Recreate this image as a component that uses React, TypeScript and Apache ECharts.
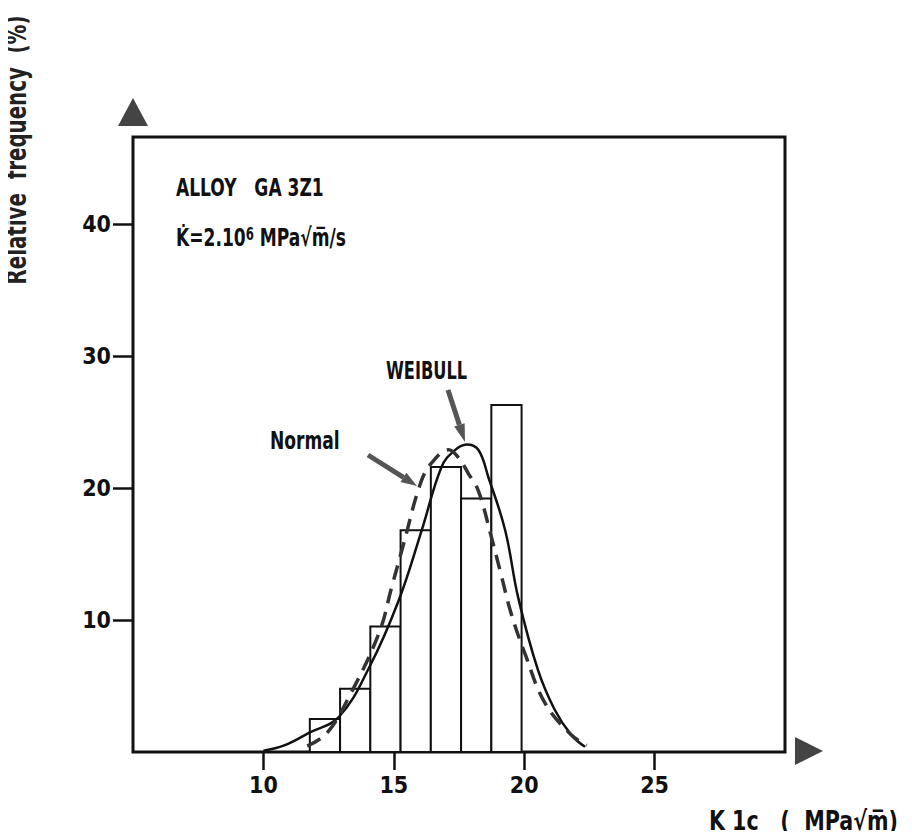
import React, { useEffect, useRef } from "react";
import * as echarts from "echarts";

// Histogram bins (K1c, MPa√m) and relative frequency (%)
const binEdges = [11.78, 12.94, 14.1, 15.26, 16.42, 17.58, 18.74, 19.9];
const binHeights = [2.5, 4.8, 9.5, 16.8, 21.6, 19.2, 26.3];

// Weibull fit (solid)
const weibullX = [10, 10.8, 11.76, 12.9, 14.08, 15.19, 16.07, 16.83, 17.3, 17.79, 18.24, 18.63, 19.27, 19.77, 20.53, 21.17, 21.8, 22.33];
const weibullY = [0.1, 0.5, 1.46, 2.67, 6.5, 11.5, 16.8, 21.6, 22.8, 23.3, 22.9, 20.8, 16.8, 11.7, 6.2, 3.2, 1.3, 0.4];

// Normal fit (dashed)
const normalX = [11.68, 12.44, 13.28, 14.43, 14.92, 15.38, 16.03, 16.45, 17.1, 17.48, 17.86, 18.24, 18.74, 19.12, 19.5, 20.04, 20.8, 21.8, 22.4];
const normalY = [0.45, 1.44, 4.17, 9.0, 12.5, 15.8, 20.4, 21.9, 22.9, 22.3, 21.1, 19.8, 16.3, 13.4, 10.5, 7.4, 3.7, 1.3, 0.5];

const xTicks = [10, 15, 20, 25];
const yTicks = [10, 20, 30, 40];

const FONT = "'Liberation Sans Narrow', 'DejaVu Sans Condensed', 'Roboto', sans-serif";

function arrow(x1: number, y1: number, x2: number, y2: number, headLen: number, headW: number) {
  const dx = x2 - x1;
  const dy = y2 - y1;
  const len = Math.sqrt(dx * dx + dy * dy);
  const ux = dx / len;
  const uy = dy / len;
  const bx = x2 - ux * headLen;
  const by = y2 - uy * headLen;
  const px = -uy;
  const py = ux;
  return [
    { type: "line", shape: { x1, y1, x2: bx, y2: by }, style: { stroke: "#555", lineWidth: 5 } },
    {
      type: "polygon",
      shape: { points: [[x2, y2], [bx + px * headW / 2, by + py * headW / 2], [bx - px * headW / 2, by - py * headW / 2]] },
      style: { fill: "#555" },
    },
  ];
}

export default function App() {
  const ref = useRef<HTMLDivElement>(null);
  useEffect(() => {
    if (!ref.current) return;
    const chart = echarts.init(ref.current, null, { renderer: "svg" });
    const bins = binHeights.map((h, i) => [binEdges[i], binEdges[i + 1], h]);
    const txt = (text: string, x: number, y: number, size: number, extra: any = {}) => ({
      type: "text",
      x,
      y,
      scaleY: 1.35,
      ...extra,
      style: { text, fontSize: size, fontWeight: "bold", fontFamily: FONT, fill: "#111", verticalAlign: "middle", ...(extra.style || {}) },
    });
    const option: any = {
      animation: false,
      backgroundColor: "#fff",
      grid: { left: 133, right: 127, top: 137, bottom: 87, show: true, borderColor: "#111", borderWidth: 3, containLabel: false },
      xAxis: {
        type: "value",
        min: 5,
        max: 30,
        interval: 5,
        axisLine: { show: false },
        splitLine: { show: false },
        axisTick: { show: true, customValues: xTicks, length: 18, lineStyle: { color: "#111", width: 2.5 } },
        axisLabel: { customValues: xTicks, color: "#111", fontSize: 23, fontWeight: "bold", fontFamily: FONT, margin: 21 },
      },
      yAxis: {
        type: "value",
        min: 0,
        max: 46.6,
        interval: 10,
        axisLine: { show: false },
        splitLine: { show: false },
        axisTick: { show: true, customValues: yTicks, length: 20, lineStyle: { color: "#111", width: 2.5 } },
        axisLabel: { customValues: yTicks, color: "#111", fontSize: 23, fontWeight: "bold", fontFamily: FONT, margin: 22 },
      },
      series: [
        {
          type: "custom",
          data: bins,
          z: 1,
          renderItem: (params: any, api: any) => {
            const p1 = api.coord([api.value(0), api.value(2)]);
            const p2 = api.coord([api.value(1), 0]);
            return {
              type: "rect",
              shape: { x: p1[0], y: p1[1], width: p2[0] - p1[0], height: p2[1] - p1[1] },
              style: { fill: "#fff", stroke: "#111", lineWidth: 2 },
            };
          },
        },
        {
          type: "line",
          name: "Weibull",
          data: weibullX.map((x, i) => [x, weibullY[i]]),
          smooth: 0.4,
          symbol: "none",
          z: 3,
          lineStyle: { color: "#111", width: 2.5 },
        },
        {
          type: "line",
          name: "Normal",
          data: normalX.map((x, i) => [x, normalY[i]]),
          smooth: 0.4,
          symbol: "none",
          z: 3,
          lineStyle: { color: "#333", width: 3.5, type: [15, 9] },
        },
      ],
      graphic: [
        { type: "polygon", shape: { points: [[133, 98], [118, 126], [148, 126]] }, style: { fill: "#444" } },
        { type: "polygon", shape: { points: [[823, 751], [795, 737], [795, 765]] }, style: { fill: "#444" } },
        txt("Relative  frequency  (%)", 17, 150, 22, { rotation: Math.PI / 2, scaleY: 1.25, style: { align: "center", fill: "#222" } }),
        txt("ALLOY   GA 3Z1", 176, 187, 19),
        {
          type: "text",
          x: 176,
          y: 238,
          scaleY: 1.3,
          style: {
            text: "{a|K\u0307=2.10}{s|6}{a| MPa√m\u0305/s}",
            verticalAlign: "middle",
            rich: {
              a: { fontSize: 19, fontWeight: "bold", fontFamily: FONT, fill: "#111", verticalAlign: "bottom" },
              s: { fontSize: 13, fontWeight: "bold", fontFamily: FONT, fill: "#111", verticalAlign: "top", padding: [0, 0, 6, 0] },
            },
          },
        },
        txt("WEIBULL", 386, 370, 18),
        txt("Normal", 270, 440, 19),
        txt("K 1c   (  MPa√m\u0305)", 898, 821, 23, { scaleY: 1.15, style: { align: "right" } }),
        ...arrow(368, 455, 417, 486, 16, 11),
        ...arrow(448, 390, 465, 442, 18, 11),
      ],
    };
    chart.setOption(option);
    return () => chart.dispose();
  }, []);
  return <div ref={ref} style={{ width: 912, height: 839, margin: -8 }} />;
}
